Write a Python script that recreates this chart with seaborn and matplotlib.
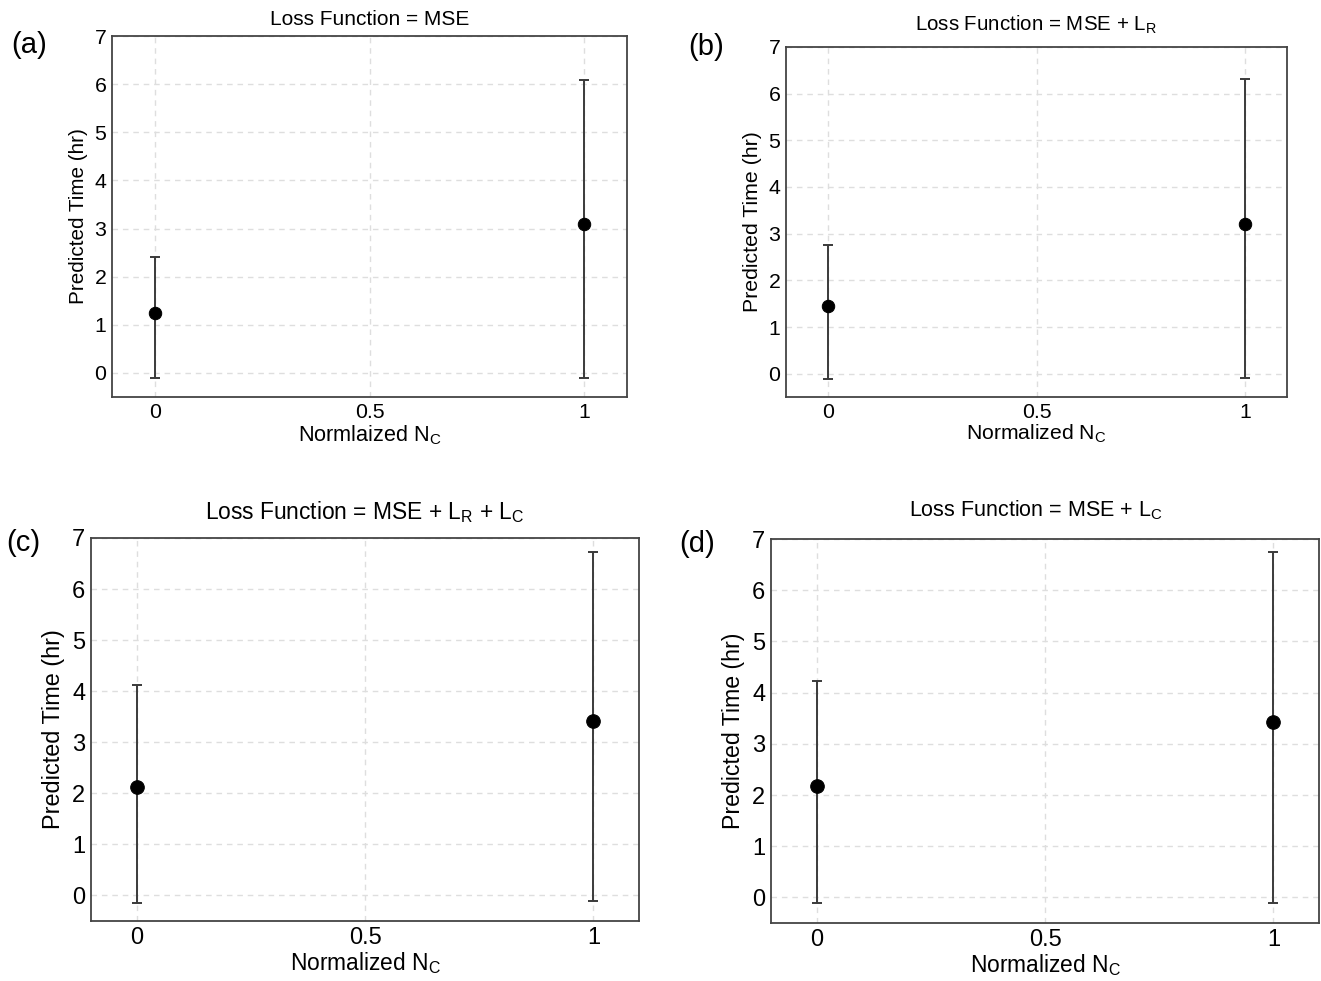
import matplotlib
matplotlib.use("Agg")
import matplotlib.pyplot as plt
import seaborn as sns
import pandas as pd

# ---- data ----
x_vals = [0, 1]
mean_a = [1.25, 3.09]
low_a = [-0.11, -0.10]
high_a = [2.40, 6.08]

mean_b = [1.44, 3.21]
low_b = [-0.11, -0.09]
high_b = [2.76, 6.31]

mean_c = [2.13, 3.42]
low_c = [-0.15, -0.11]
high_c = [4.13, 6.72]

mean_d = [2.17, 3.42]
low_d = [-0.10, -0.10]
high_d = [4.23, 6.74]

titles = [
    "Loss Function = MSE",
    r"Loss Function = MSE + L$_\mathregular{R}$",
    r"Loss Function = MSE + L$_\mathregular{R}$ + L$_\mathregular{C}$",
    r"Loss Function = MSE + L$_\mathregular{C}$",
]
xlabels = [
    r"Normlaized N$_\mathregular{C}$",
    r"Normalized N$_\mathregular{C}$",
    r"Normalized N$_\mathregular{C}$",
    r"Normalized N$_\mathregular{C}$",
]
ylabel = "Predicted Time (hr)"
panel_labels = ["(a)", "(b)", "(c)", "(d)"]
xticks = [0, 0.5, 1]
xticklabels = ["0", "0.5", "1"]
yticks = [0, 1, 2, 3, 4, 5, 6, 7]

# ---- style ----
sns.set_theme(style="white")
plt.rcParams["font.family"] = ["Liberation Sans", "DejaVu Sans"]
plt.rcParams["mathtext.fontset"] = "custom"
plt.rcParams["mathtext.rm"] = "Liberation Sans"
plt.rcParams["mathtext.it"] = "Liberation Sans:italic"

W, H = 1321, 981
fig = plt.figure(figsize=(W / 100, H / 100), dpi=100)

# pixel boxes (left, top, right, bottom)
boxes = [
    (112, 36, 627, 397),
    (786, 47, 1287, 397),
    (91, 538, 639, 921),
    (771, 539, 1319, 923),
]
tick_fs = [15.3, 15.3, 17.0, 17.0]
xlab_fs = [15.6, 15.2, 16.4, 16.4]
ylab_fs = [14.9, 15.3, 16.9, 16.7]
title_fs = [15.0, 14.8, 16.4, 15.5]
title_pad = [8.0, 12.0, 13.5, 16.0]
title_x = [0.5, 0.5, 0.5, 0.4836]
panel_pos = [(29, 45), (706, 47), (23, 543), (697, 544)]
msize = [80, 80, 95, 95]

datasets = [
    (mean_a, low_a, high_a),
    (mean_b, low_b, high_b),
    (mean_c, low_c, high_c),
    (mean_d, low_d, high_d),
]

for i, (box, (m, lo, hi)) in enumerate(zip(boxes, datasets)):
    l, t, r, b = box
    ax = fig.add_axes([l / W, 1 - b / H, (r - l) / W, (b - t) / H])
    df = pd.DataFrame({"x": x_vals, "y": m, "lo": lo, "hi": hi})
    yerr = [df["y"] - df["lo"], df["hi"] - df["y"]]
    ax.errorbar(df["x"], df["y"], yerr=yerr, fmt="none", ecolor="#3a3a3a",
                elinewidth=1.4, capsize=3.8, capthick=1.4, zorder=2)
    sns.scatterplot(data=df, x="x", y="y", ax=ax, color="black",
                    edgecolor="black", s=msize[i], zorder=3, legend=False)
    ax.set_xlim(-0.1, 1.1)
    ax.set_ylim(-0.5, 7)
    ax.set_xticks(xticks)
    ax.set_xticklabels(xticklabels)
    ax.set_yticks(yticks)
    ax.tick_params(length=0, labelsize=tick_fs[i], pad=4, colors="black")
    ax.grid(True, linestyle=(0, (4, 3.5)), color="#dedede", linewidth=1.0)
    ax.set_axisbelow(True)
    for sp in ax.spines.values():
        sp.set_visible(True)
        sp.set_color("#444444")
        sp.set_linewidth(1.3)
    ax.set_xlabel(xlabels[i], fontsize=xlab_fs[i], labelpad=1, color="black")
    ax.set_ylabel(ylabel, fontsize=ylab_fs[i], labelpad=5, color="black")
    ax.set_title(titles[i], fontsize=title_fs[i], pad=title_pad[i],
                 color="black", x=title_x[i])
    px, py = panel_pos[i]
    fig.text(px / W, 1 - py / H, panel_labels[i], fontsize=21, ha="center",
             va="center", color="black")

fig.savefig("out.png", dpi=100, facecolor="white")
